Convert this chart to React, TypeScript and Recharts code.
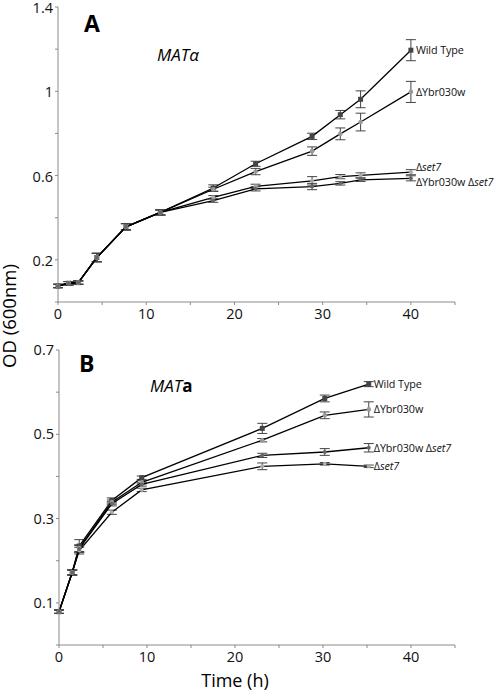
import React from 'react';
import { LineChart, Line, XAxis, YAxis, ErrorBar } from 'recharts';

// ---------- Panel A (MATα) ----------
const timeA = [0, 1.2, 2.3, 4.4, 7.7, 11.6, 17.6, 22.4, 28.8, 32.0, 34.3, 40.0];
const wtA = [0.076, 0.089, 0.092, 0.211, 0.357, 0.425, 0.541, 0.656, 0.786, 0.889, 0.962, 1.195];
const wtErrA = [0.008, 0.008, 0.008, 0.02, 0.015, 0.012, 0.015, 0.012, 0.015, 0.02, 0.04, 0.05];
const ybrA = [0.076, 0.089, 0.092, 0.211, 0.357, 0.425, 0.535, 0.619, 0.716, 0.798, 0.854, 0.997];
const ybrErrA = [0.008, 0.008, 0.008, 0.02, 0.015, 0.012, 0.01, 0.015, 0.02, 0.028, 0.042, 0.05];
const set7A = [0.076, 0.089, 0.092, 0.211, 0.357, 0.425, 0.497, 0.549, 0.575, 0.595, 0.601, 0.616];
const set7ErrA = [0.008, 0.008, 0.008, 0.02, 0.015, 0.012, 0.008, 0.01, 0.02, 0.01, 0.012, 0.012];
const ybrSet7A = [0.076, 0.089, 0.092, 0.211, 0.357, 0.425, 0.481, 0.537, 0.548, 0.563, 0.580, 0.587];
const ybrSet7ErrA = [0.008, 0.008, 0.008, 0.02, 0.015, 0.012, 0.008, 0.01, 0.015, 0.008, 0.008, 0.012];

// ---------- Panel B (MATa) ----------
const timeB = [0, 1.5, 2.3, 6.0, 9.4, 23.1, 30.2, 35.2];
const wtB = [0.079, 0.172, 0.235, 0.343, 0.397, 0.514, 0.585, 0.619];
const wtErrB = [0.004, 0.006, 0.015, 0.006, 0.004, 0.012, 0.008, 0.006];
const ybrB = [0.079, 0.172, 0.23, 0.339, 0.386, 0.486, 0.545, 0.559];
const ybrErrB = [0.004, 0.006, 0.008, 0.005, 0.004, 0.004, 0.008, 0.018];
const ybrSet7B = [0.079, 0.172, 0.228, 0.335, 0.381, 0.45, 0.458, 0.468];
const ybrSet7ErrB = [0.004, 0.006, 0.008, 0.005, 0.004, 0.005, 0.008, 0.01];
const set7B = [0.079, 0.172, 0.224, 0.315, 0.368, 0.424, 0.43, 0.424];
const set7ErrB = [0.004, 0.006, 0.008, 0.005, 0.004, 0.008, 0.003, 0.003];

const xTicks = [0, 5, 10, 15, 20, 25, 30, 35, 40, 45];
const xTickLabels = ['0', '', '10', '', '20', '', '30', '', '40', ''];
const yTicksA = [0, 0.2, 0.4, 0.6, 0.8, 1.0, 1.2, 1.4];
const yTickLabelsA = ['', '0.2', '', '0.6', '', '1', '', '1.4'];
const yTicksB = [0, 0.1, 0.2, 0.3, 0.4, 0.5, 0.6, 0.7];
const yTickLabelsB = ['', '0.1', '', '0.3', '', '0.5', '', '0.7'];

const dataA = timeA.map((t, i) => ({
  t,
  wt: wtA[i], wtErr: wtErrA[i],
  ybr: ybrA[i], ybrErr: ybrErrA[i],
  set7: set7A[i], set7Err: set7ErrA[i],
  ybrSet7: ybrSet7A[i], ybrSet7Err: ybrSet7ErrA[i],
}));
const dataB = timeB.map((t, i) => ({
  t,
  wt: wtB[i], wtErr: wtErrB[i],
  ybr: ybrB[i], ybrErr: ybrErrB[i],
  set7: set7B[i], set7Err: set7ErrB[i],
  ybrSet7: ybrSet7B[i], ybrSet7Err: ybrSet7ErrB[i],
}));

const FONT = '"Open Sans", "Noto Sans", sans-serif';
const AXIS = '#8a8a8a';

type SeriesKey = 'wt' | 'ybr' | 'set7' | 'ybrSet7';

const seriesLabel = (key: SeriesKey) => {
  if (key === 'wt') return [<tspan key="a">Wild Type</tspan>];
  if (key === 'ybr') return [<tspan key="a">ΔYbr030w</tspan>];
  if (key === 'set7') return [<tspan key="a">Δ</tspan>, <tspan key="b" fontStyle="italic">set7</tspan>];
  return [<tspan key="a">ΔYbr030w Δ</tspan>, <tspan key="b" fontStyle="italic">set7</tspan>];
};

const makeEndLabel = (key: SeriesKey, last: number, dy: number, dx: number) => (props: any) => {
  const { x, y, index } = props;
  if (index !== last) return null;
  return (
    <text x={x + dx} y={y + dy} dy="0.35em" fontSize={10.8} fontFamily={FONT} fill="#111" letterSpacing={-0.1}>
      {seriesLabel(key)}
    </text>
  );
};

const makeDot = (shape: 'square' | 'circle', fill: string, r: number) => (props: any) => {
  const { cx, cy, index } = props;
  if (cx == null || cy == null) return <g key={index} />;
  if (shape === 'square') {
    return <rect key={index} x={cx - r} y={cy - r} width={2 * r} height={2 * r} fill={fill} />;
  }
  return <circle key={index} cx={cx} cy={cy} r={r} fill={fill} />;
};

const seriesStyle: Record<SeriesKey, { shape: 'square' | 'circle'; fill: string; r: number }> = {
  wt: { shape: 'square', fill: '#444', r: 2.5 },
  ybr: { shape: 'circle', fill: '#999', r: 2.3 },
  set7: { shape: 'circle', fill: '#aaa', r: 2 },
  ybrSet7: { shape: 'circle', fill: '#666', r: 2 },
};

const renderLines = (last: number, offsets: Record<SeriesKey, number>, dx: number) =>
  (['wt', 'ybr', 'set7', 'ybrSet7'] as SeriesKey[]).map((k) => (
    <Line
      key={k}
      type="linear"
      dataKey={k}
      stroke="#000"
      strokeWidth={1.3}
      isAnimationActive={false}
      dot={makeDot(seriesStyle[k].shape, seriesStyle[k].fill, seriesStyle[k].r)}
      activeDot={false}
      label={makeEndLabel(k, last, offsets[k], dx)}
    >
      <ErrorBar dataKey={`${k}Err`} width={5} stroke="#444" strokeWidth={1} direction="y" />
    </Line>
  ));

const tickStyle = { fontSize: 14.5, fontFamily: FONT, fill: '#111' };

export default function App() {
  return (
    <div style={{ position: 'absolute', left: 0, top: 0, width: 496, height: 692, background: '#fff', fontFamily: FONT }}>
      <div style={{ position: 'absolute', left: 0, top: 0 }}>
        <LineChart width={496} height={330} data={dataA} margin={{ top: 7, right: 41, left: 0, bottom: 0 }}>
          <XAxis
            dataKey="t"
            type="number"
            domain={[0, 45]}
            ticks={xTicks}
            tickFormatter={(v: number) => xTickLabels[xTicks.indexOf(v)] ?? ''}
            height={28}
            tickSize={3}
            tickMargin={4}
            stroke={AXIS}
            tick={tickStyle}
            interval={0}
          />
          <YAxis
            type="number"
            domain={[0, 1.4]}
            ticks={yTicksA}
            tickFormatter={(v: number) => yTickLabelsA[yTicksA.indexOf(v)] ?? ''}
            width={58}
            tickSize={3}
            tickMargin={2}
            stroke={AXIS}
            tick={{ ...tickStyle, dy: 1 }}
            interval={0}
          />
          {renderLines(timeA.length - 1, { wt: 0, ybr: 0, set7: -5, ybrSet7: 4 }, 5)}
        </LineChart>
      </div>
      <div style={{ position: 'absolute', left: 0, top: 330 }}>
        <LineChart width={496} height={362} data={dataB} margin={{ top: 20, right: 41, left: 0, bottom: 0 }}>
          <XAxis
            dataKey="t"
            type="number"
            domain={[0, 45]}
            ticks={xTicks}
            tickFormatter={(v: number) => xTickLabels[xTicks.indexOf(v)] ?? ''}
            height={47}
            tickSize={3}
            tickMargin={4}
            stroke={AXIS}
            tick={tickStyle}
            interval={0}
          />
          <YAxis
            type="number"
            domain={[0, 0.7]}
            ticks={yTicksB}
            tickFormatter={(v: number) => yTickLabelsB[yTicksB.indexOf(v)] ?? ''}
            width={59}
            tickSize={3}
            tickMargin={2}
            stroke={AXIS}
            tick={tickStyle}
            interval={0}
          />
          {renderLines(timeB.length - 1, { wt: 0, ybr: 0, set7: 0, ybrSet7: 0 }, 5)}
        </LineChart>
      </div>
      <svg width={496} height={692} style={{ position: 'absolute', left: 0, top: 0, pointerEvents: 'none' }}>
        <text x={84} y={32} fontSize={23} fontWeight="bold" fontFamily={FONT} fill="#000">A</text>
        <text x={157} y={61} fontSize={17} fontStyle="italic" fontFamily={FONT} fill="#000">MATα</text>
        <text x={79} y={372} fontSize={23} fontWeight="bold" fontFamily={FONT} fill="#000">B</text>
        <text x={150} y={392} fontSize={17} fontFamily={FONT} fill="#000">
          <tspan fontStyle="italic">MAT</tspan>
          <tspan fontWeight="bold">a</tspan>
        </text>
        <text x={16} y={316} fontSize={18.5} fontFamily={FONT} fill="#000" textAnchor="middle" transform="rotate(-90 16 316)">OD (600nm)</text>
        <text x={235} y={687} fontSize={18} fontFamily={FONT} fill="#000" textAnchor="middle">Time (h)</text>
      </svg>
    </div>
  );
}
